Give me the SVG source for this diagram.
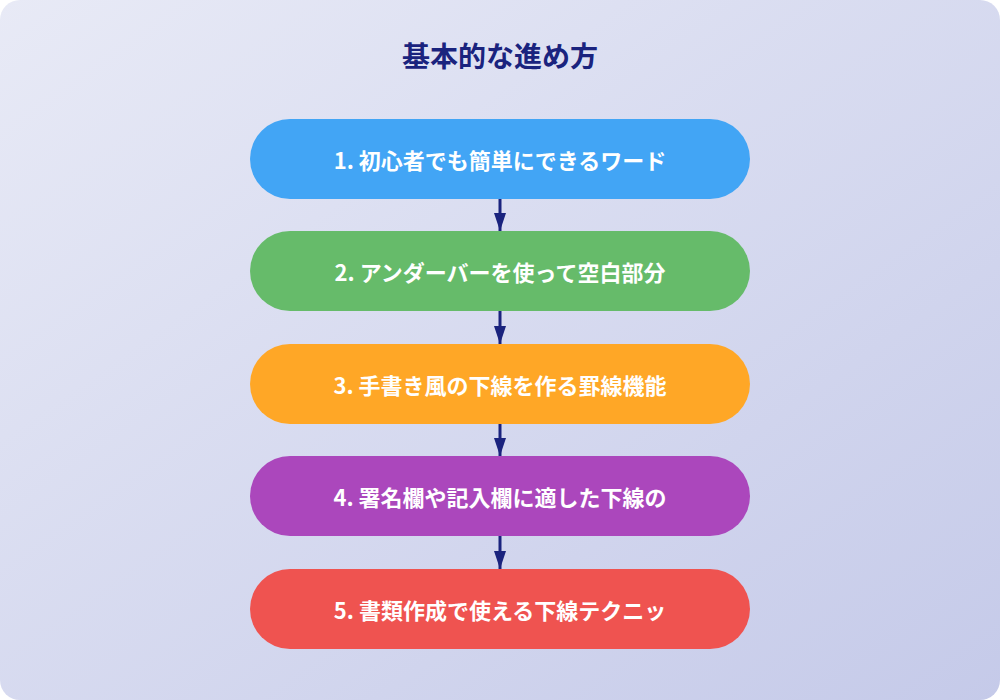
<svg xmlns="http://www.w3.org/2000/svg" width="1000" height="700" viewBox="0 0 1000 700">
<defs>
<linearGradient id="bg" x1="0" y1="0" x2="1" y2="1"><stop offset="0" stop-color="#e8eaf6"/><stop offset="1" stop-color="#c5cae9"/></linearGradient>
<marker id="ah" markerWidth="6" markerHeight="4" refX="6" refY="2" orient="auto" markerUnits="strokeWidth"><path d="M0,0L6,2L0,4z" fill="#1a237e"/></marker>
<style>
.t{font-family:"Noto Sans CJK JP","Noto Sans",sans-serif;font-weight:bold;font-size:22px;fill:#fff;text-anchor:middle;dominant-baseline:central}
.c{stroke:#1a237e;stroke-width:3;marker-end:url(#ah)}
</style>
</defs>
<rect width="1000" height="700" rx="20" fill="url(#bg)"/>
<text x="500" y="55" font-family="'Noto Sans CJK JP',sans-serif" font-weight="bold" font-size="28" fill="#1a237e" text-anchor="middle" dominant-baseline="central">基本的な進め方</text>
<g id="connectors">
<line class="c" x1="500" y1="199" x2="500" y2="231"/>
<line class="c" x1="500" y1="311" x2="500" y2="344"/>
<line class="c" x1="500" y1="424" x2="500" y2="456"/>
<line class="c" x1="500" y1="536" x2="500" y2="569"/>
</g>
<g id="n1"><rect x="250" y="119" width="500" height="80" rx="40" fill="#42a5f5"/><text class="t" x="500" y="159">1. 初心者でも簡単にできるワード</text></g>
<g id="n2"><rect x="250" y="231" width="500" height="80" rx="40" fill="#66bb6a"/><text class="t" x="500" y="271">2. アンダーバーを使って空白部分</text></g>
<g id="n3"><rect x="250" y="344" width="500" height="80" rx="40" fill="#ffa726"/><text class="t" x="500" y="384">3. 手書き風の下線を作る罫線機能</text></g>
<g id="n4"><rect x="250" y="456" width="500" height="80" rx="40" fill="#ab47bc"/><text class="t" x="500" y="496">4. 署名欄や記入欄に適した下線の</text></g>
<g id="n5"><rect x="250" y="569" width="500" height="80" rx="40" fill="#ef5350"/><text class="t" x="500" y="609">5. 書類作成で使える下線テクニッ</text></g>
</svg>
